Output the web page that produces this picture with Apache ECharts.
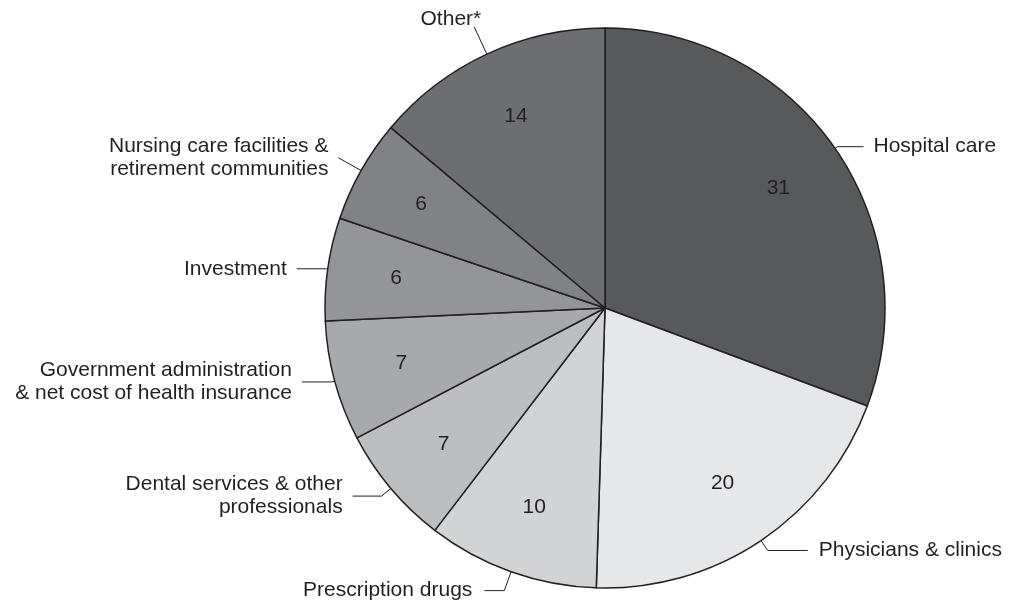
<!DOCTYPE html>
<html>
<head>
<meta charset="utf-8">
<style>
  html, body { margin: 0; padding: 0; background: #ffffff; }
  #chart { width: 1016px; height: 602px; }
</style>
<script src="https://cdn.jsdelivr.net/npm/echarts@6/dist/echarts.min.js"></script>
</head>
<body>
<div id="chart"></div>
<script>
// ---- data ----
const categories = [
  'Hospital care',
  'Physicians & clinics',
  'Prescription drugs',
  'Dental services & other\nprofessionals',
  'Government administration\n& net cost of health insurance',
  'Investment',
  'Nursing care facilities &\nretirement communities',
  'Other*'
];
const values = [31, 20, 10, 7, 7, 6, 6, 14];

// ---- styles (kept apart from the data) ----
const sliceColors = ['#58595b', '#e6e7e8', '#d1d3d4', '#bcbec0', '#a7a9ac', '#939598', '#808285', '#6d6e71'];
// [radial length, horizontal length, distance to text]
const labelLineStyle = [
  [3, 26, 10],
  [12, 40, 11],
  [20, 20, 12],
  [12, 29, 10],
  [3, 30, 10],
  [1, 30, 10],
  [26, 0, 10],
  [30, 0, 5]
];
// small label nudges [dx, dy]
const labelNudge = [
  [0, 4], [0, 0], [0, 0], [0, -4], [0, -4], [0, 0], [0, 0], [12, -8]
];

const ink = '#231f20';
const font = '"Liberation Sans", Arial, Helvetica, sans-serif';

const outerData = categories.map((name, i) => ({
  name: name,
  value: values[i],
  itemStyle: { color: sliceColors[i] },
  labelLine: { length: labelLineStyle[i][0], length2: labelLineStyle[i][1] },
  label: { distanceToLabelLine: labelLineStyle[i][2] }
}));

const innerData = categories.map((name, i) => ({
  name: name,
  value: values[i]
}));

const chart = echarts.init(document.getElementById('chart'), null, { renderer: 'canvas' });
chart.setOption({
  animation: false,
  backgroundColor: '#ffffff',
  series: [
    {
      type: 'pie',
      center: [605, 308],
      radius: 280,
      startAngle: 90,
      clockwise: true,
      avoidLabelOverlap: false,
      silent: true,
      itemStyle: { borderColor: ink, borderWidth: 1.5 },
      label: {
        show: true,
        position: 'outside',
        alignTo: 'none',
        color: ink,
        fontFamily: font,
        fontSize: 21,
        lineHeight: 23,
        formatter: '{b}'
      },
      labelLine: {
        show: true,
        lineStyle: { color: ink, width: 1 },
        minTurnAngle: 0,
        maxSurfaceAngle: 180
      },
      labelLayout: function (params) {
        const n = labelNudge[params.dataIndex];
        if (!n || (n[0] === 0 && n[1] === 0) || params.dataIndex !== 7) return {};
        return { dx: n[0], dy: n[1] };
      },
      data: outerData
    },
    {
      type: 'pie',
      center: [605, 308],
      radius: [136, 280],
      startAngle: 90,
      clockwise: true,
      silent: true,
      itemStyle: { color: 'rgba(0,0,0,0)', borderWidth: 0 },
      label: {
        show: true,
        position: 'inside',
        color: ink,
        fontFamily: font,
        fontSize: 21,
        formatter: '{c}'
      },
      labelLine: { show: false },
      data: innerData
    }
  ]
});
</script>
</body>
</html>
